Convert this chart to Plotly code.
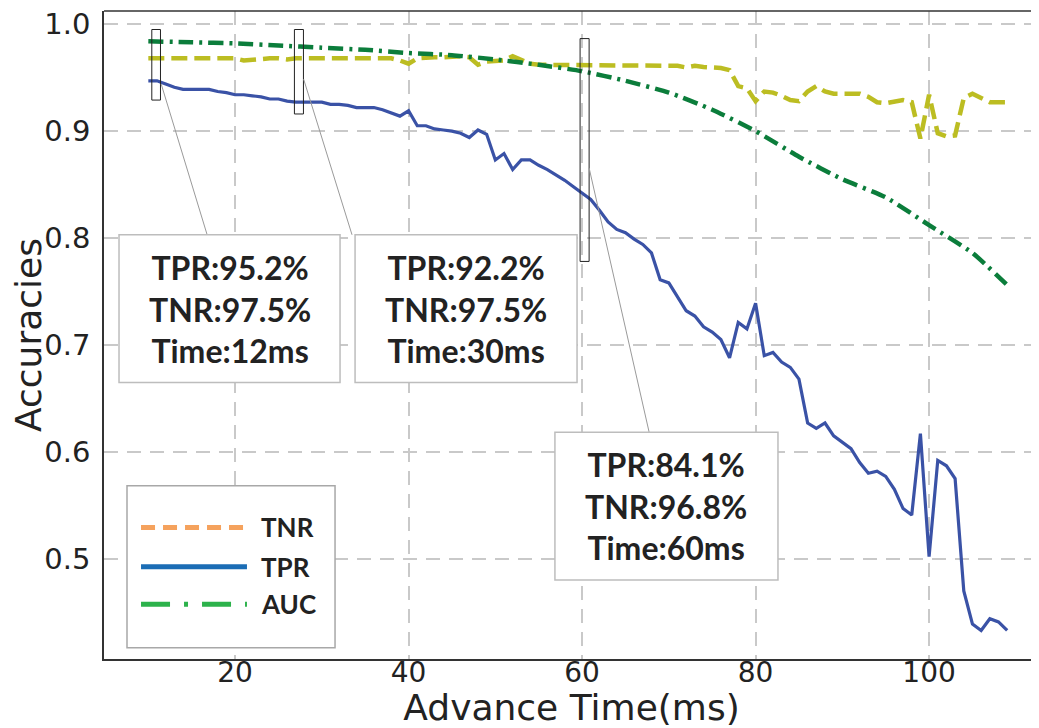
import plotly.graph_objects as go

# ---------------- data ----------------
time_ms = list(range(10, 110))

tpr = [0.947, 0.947, 0.944, 0.941, 0.939, 0.939, 0.939, 0.939, 0.937, 0.936,
       0.934, 0.934, 0.933, 0.932, 0.930, 0.930, 0.928, 0.927, 0.927, 0.927,
       0.927, 0.925, 0.925, 0.924, 0.922, 0.922, 0.922, 0.920, 0.917, 0.914,
       0.919, 0.905, 0.905, 0.902, 0.901, 0.900, 0.898, 0.894, 0.901, 0.897,
       0.873, 0.879, 0.864, 0.873, 0.873, 0.868, 0.864, 0.859, 0.854, 0.848,
       0.842, 0.836, 0.826, 0.815, 0.808, 0.805, 0.799, 0.794, 0.786, 0.761,
       0.758, 0.745, 0.732, 0.727, 0.717, 0.712, 0.705, 0.688, 0.721, 0.715,
       0.739, 0.690, 0.693, 0.684, 0.679, 0.668, 0.627, 0.622, 0.627, 0.615,
       0.609, 0.603, 0.590, 0.580, 0.582, 0.577, 0.565, 0.547, 0.541, 0.617,
       0.502, 0.592, 0.587, 0.575, 0.470, 0.439, 0.433, 0.444, 0.441, 0.433]

tnr = [0.968, 0.968, 0.968, 0.968, 0.968, 0.968, 0.968, 0.968, 0.968, 0.968,
       0.968, 0.966, 0.967, 0.968, 0.968, 0.968, 0.967, 0.968, 0.968, 0.968,
       0.968, 0.968, 0.968, 0.968, 0.968, 0.968, 0.967, 0.968, 0.968, 0.966,
       0.963, 0.968, 0.969, 0.969, 0.969, 0.970, 0.970, 0.969, 0.962, 0.965,
       0.966, 0.966, 0.970, 0.966, 0.963, 0.962, 0.962, 0.962, 0.962, 0.962,
       0.962, 0.962, 0.962, 0.962, 0.962, 0.962, 0.962, 0.962, 0.962, 0.962,
       0.962, 0.961, 0.9595, 0.961, 0.960, 0.960, 0.959, 0.957, 0.942, 0.940,
       0.928, 0.937, 0.936, 0.933, 0.929, 0.928, 0.937, 0.942, 0.937, 0.935,
       0.935, 0.935, 0.935, 0.932, 0.927, 0.926, 0.927, 0.929, 0.927, 0.893,
       0.934, 0.898, 0.895, 0.896, 0.931, 0.935, 0.931, 0.927, 0.927, 0.927]

auc_time = [10, 15, 20, 25, 30, 35, 40, 45, 50, 55, 60, 65, 70, 75, 80, 85,
            90, 95, 100, 105, 109]
auc = [0.984, 0.983, 0.982, 0.980, 0.978, 0.976, 0.973, 0.971, 0.967, 0.962,
       0.956, 0.947, 0.936, 0.920, 0.900, 0.876, 0.855, 0.838, 0.812, 0.786,
       0.756]

x_ticks = [20, 40, 60, 80, 100]
y_ticks = [0.5, 0.6, 0.7, 0.8, 0.9, 1.0]
y_ticktext = ["0.5", "0.6", "0.7", "0.8", "0.9", "1.0"]

# callouts: highlighted time, text lines
callout_texts = [
    "TPR:95.2%<br>TNR:97.5%<br>Time:12ms",
    "TPR:92.2%<br>TNR:97.5%<br>Time:30ms",
    "TPR:84.1%<br>TNR:96.8%<br>Time:60ms",
]

legend_names = ["TNR", "TPR", "AUC"]

# ---------------- styles ----------------
C_TNR = "#bcbd22"
C_TPR = "#3a52a6"
C_AUC = "#0b7d3b"
LEG_COLORS = ["#f5a25d", "#1b6db5", "#2cb24b"]
LEG_DASH = ["14px,8px", "solid", "29px,14px,4px,14px"]
GRID = "#c9c9c9"
TXT = "#222222"
ANN_FONT = dict(family="Lato", size=32, color=TXT, weight="bold")

fig = go.Figure()
fig.add_trace(go.Scatter(x=time_ms, y=tpr, mode="lines", name="TPR",
                         line=dict(color=C_TPR, width=3.2)))
fig.add_trace(go.Scatter(x=time_ms, y=tnr, mode="lines", name="TNR",
                         line=dict(color=C_TNR, width=4.5, dash="16px,7px")))
fig.add_trace(go.Scatter(x=auc_time, y=auc, mode="lines", name="AUC",
                         line=dict(color=C_AUC, width=4.5, dash="15px,6px,3px,6px",
                                   shape="spline", smoothing=0.6)))

shapes = []
# small highlight rectangles (data coords)
hl_rects = [(10.4, 11.4, 0.929, 0.995), (26.84, 27.88, 0.916, 0.995),
            (59.77, 60.81, 0.7781, 0.9865)]
for x0, x1, y0, y1 in hl_rects:
    shapes.append(dict(type="rect", xref="x", yref="y", x0=x0, x1=x1, y0=y0, y1=y1,
                       line=dict(color="#222", width=1), fillcolor="rgba(0,0,0,0)",
                       layer="above"))
# connector lines
connectors = [(11.48, 0.9441, 16.78, 0.803), (27.9, 0.9486, 33.48, 0.803),
              (60.81, 0.8655, 67.73, 0.6184)]
for x0, y0, x1, y1 in connectors:
    shapes.append(dict(type="line", xref="x", yref="y", x0=x0, y0=y0, x1=x1, y1=y1,
                       line=dict(color="#9a9a9a", width=1), layer="above"))
# callout boxes
boxes = [(6.62, 32.10, 0.6648, 0.8030), (33.83, 59.42, 0.6648, 0.8030),
         (56.87, 82.58, 0.4801, 0.6184)]
annotations = []
for (x0, x1, y0, y1), txt in zip(boxes, callout_texts):
    shapes.append(dict(type="rect", xref="x", yref="y", x0=x0, x1=x1, y0=y0, y1=y1,
                       line=dict(color="#bdbdbd", width=1.5), fillcolor="white",
                       layer="above"))
    annotations.append(dict(x=(x0 + x1) / 2, y=(y0 + y1) / 2, xref="x", yref="y",
                            text=txt, showarrow=False, font=ANN_FONT, align="center",
                            xanchor="center", yanchor="middle"))

# top frame line
shapes.append(dict(type="line", xref="paper", yref="paper", x0=0, x1=1, y0=1, y1=1,
                   line=dict(color="#333", width=1.5)))

# manual legend (paper coords)
shapes.append(dict(type="rect", xref="paper", yref="paper", x0=0.0246, x1=0.2471,
                   y0=0.0172, y1=0.2672, line=dict(color="#a8a8a8", width=1.5),
                   fillcolor="white", layer="above"))
leg_y = [0.2031, 0.1422, 0.0844]
for name, col, dsh, yy in zip(legend_names, LEG_COLORS, LEG_DASH, leg_y):
    shapes.append(dict(type="line", xref="paper", yref="paper", x0=0.0396, x1=0.1529,
                       y0=yy, y1=yy, line=dict(color=col, width=5, dash=dsh),
                       layer="above"))
    annotations.append(dict(x=0.1658, y=yy, xref="paper", yref="paper", text=name,
                            showarrow=False, xanchor="left", yanchor="middle",
                            font=dict(family="Lato", size=26, color=TXT, weight="bold")))

# page body adds an 8px offset, so the figure is 8px smaller than the window
fig.update_layout(
    width=1031, height=720,
    margin=dict(l=96, r=0, t=3, b=69),
    plot_bgcolor="white", paper_bgcolor="white",
    showlegend=False,
    shapes=shapes, annotations=annotations,
    font=dict(family="DejaVu Sans", color=TXT),
)
fig.update_xaxes(
    range=[4.89, 112.67], tickvals=x_ticks, showgrid=True, gridcolor=GRID,
    gridwidth=2, griddash="14px,9px", showline=True, linecolor="#333", linewidth=1.5,
    zeroline=False, ticks="", automargin=False, ticklabelstandoff=-12,
    ticklabeloverflow="allow",
    tickfont=dict(family="DejaVu Sans", size=28, color=TXT),
    title=dict(text="Advance Time(ms)", font=dict(family="DejaVu Sans", size=36, color=TXT),
               standoff=6),
)
fig.update_yaxes(
    range=[0.4063, 1.0123], tickvals=y_ticks, ticktext=y_ticktext, showgrid=True,
    gridcolor=GRID, gridwidth=2, griddash="14px,9px", showline=True, linecolor="#333",
    linewidth=1.5, zeroline=False, ticks="", ticklabelstandoff=6, automargin=False,
    ticklabeloverflow="allow",
    tickfont=dict(family="DejaVu Sans", size=29, color=TXT),
    title=dict(text="Accuracies", font=dict(family="DejaVu Sans", size=36, color=TXT),
               standoff=4),
)

fig.write_html("out.html")
